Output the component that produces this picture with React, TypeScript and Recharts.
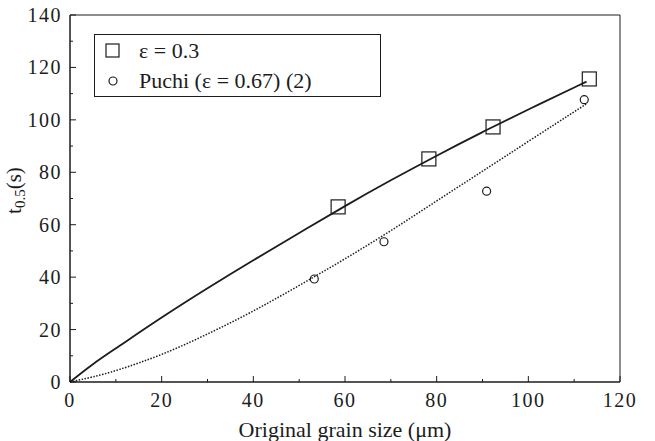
import { ComposedChart, Label, Legend, Line, ReferenceArea, Scatter, XAxis, YAxis } from 'recharts';

const INK = '#1c1c1c';
const SERIF = '"Liberation Serif", "Times New Roman", serif';

const xTicks = [0, 10, 20, 30, 40, 50, 60, 70, 80, 90, 100, 110, 120];
const yTicks = [0, 10, 20, 30, 40, 50, 60, 70, 80, 90, 100, 110, 120, 130, 140];

// measured points
const strainGrain = [58.5, 78.3, 92.3, 113.3];
const strainTime = [66.8, 85.1, 97.3, 115.6];
const puchiGrain = [53.3, 68.5, 90.9, 112.2];
const puchiTime = [39.3, 53.5, 72.8, 107.7];

// fitted curves
const fitStrainGrain = [0, 5, 10, 20, 30, 40, 50, 60, 70, 80, 90, 100, 112.7];
const fitStrainTime = [0, 7, 12.8, 24.7, 35.8, 46.5, 56.8, 67.2, 77, 86.4, 95.4, 104, 114.6];
const fitPuchiGrain = [0, 5, 10, 20, 30, 40, 50, 60, 70, 80, 90, 100, 112.6];
const fitPuchiTime = [0, 1.9, 4.2, 10.2, 18.2, 26.9, 36.8, 46.9, 57.6, 69.1, 80.4, 91.8, 106];

const zip = (xs: number[], ts: number[]) => xs.map((x, i) => ({ x, t: ts[i] }));

const strainPts = zip(strainGrain, strainTime);
const puchiPts = zip(puchiGrain, puchiTime);
const strainFit = zip(fitStrainGrain, fitStrainTime);
const puchiFit = zip(fitPuchiGrain, fitPuchiTime);

const XTick = (props: any) => {
  const { x, y, payload } = props;
  const major = payload.value % 20 === 0;
  return (
    <g>
      <line x1={x} y1={y} x2={x} y2={y - (major ? 6 : 3)} stroke={INK} />
      {major && (
        <text x={x} y={y + 25} textAnchor="middle" fill={INK} fontFamily={SERIF} fontSize={20} letterSpacing={1.5}>
          {payload.value}
        </text>
      )}
    </g>
  );
};

const YTick = (props: any) => {
  const { x, y, payload } = props;
  const major = payload.value % 20 === 0;
  return (
    <g>
      <line x1={x} y1={y} x2={x + (major ? 6 : 3)} y2={y} stroke={INK} />
      {major && (
        <text x={x - 8} y={y} dy="0.35em" textAnchor="end" fill={INK} fontFamily={SERIF} fontSize={20} letterSpacing={1.5}>
          {payload.value}
        </text>
      )}
    </g>
  );
};

const XTitle = (props: any) => {
  const vb = props.viewBox;
  return (
    <text x={vb.x + vb.width / 2} y={vb.y + 55} textAnchor="middle" fill={INK} fontFamily={SERIF} fontSize={22}>
      Original grain size (μm)
    </text>
  );
};

const YTitle = (props: any) => {
  const vb = props.viewBox;
  const cx = 21;
  const cy = vb.y + vb.height / 2 - 8;
  return (
    <text x={cx} y={cy} transform={`rotate(-90 ${cx} ${cy})`} textAnchor="middle" fill={INK} fontFamily={SERIF} fontSize={21}>
      t
      <tspan fontSize={15} dy={4}>0.5</tspan>
      <tspan dy={-4}>(s)</tspan>
    </text>
  );
};

const SquareMark = (p: any) => (
  <rect x={p.cx - 7} y={p.cy - 7} width={14} height={14} fill="none" stroke={INK} strokeWidth={1.2} />
);
const CircleMark = (p: any) => <circle cx={p.cx} cy={p.cy} r={4} fill="none" stroke={INK} strokeWidth={1.2} />;

const LegendBox = () => (
  <div
    style={{
      width: 287,
      height: 63,
      boxSizing: 'border-box',
      border: `1px solid ${INK}`,
      fontFamily: SERIF,
      fontSize: 22,
      color: INK,
      paddingTop: 1,
    }}
  >
    <div style={{ display: 'flex', alignItems: 'center', height: 30 }}>
      <svg width={44} height={30}>
        <rect x={11} y={8} width={13} height={13} fill="none" stroke={INK} strokeWidth={1.2} />
      </svg>
      <span>ε = 0.3</span>
    </div>
    <div style={{ display: 'flex', alignItems: 'center', height: 30 }}>
      <svg width={44} height={30}>
        <circle cx={18} cy={15} r={4} fill="none" stroke={INK} strokeWidth={1.2} />
      </svg>
      <span>Puchi (ε = 0.67) (2)</span>
    </div>
  </div>
);

export default function App() {
  return (
    <div style={{ position: 'absolute', left: 0, top: 0, background: '#fff' }}>
      <ComposedChart width={655} height={441} margin={{ top: 15, right: 35, bottom: 0, left: 0 }}>
        <XAxis
          dataKey="x"
          type="number"
          domain={[0, 120]}
          ticks={xTicks}
          interval={0}
          height={59}
          tickSize={0}
          tickMargin={0}
          tick={XTick}
          axisLine={{ stroke: INK }}
          tickLine={false}
        >
          <Label content={XTitle} />
        </XAxis>
        <YAxis
          type="number"
          domain={[0, 140]}
          ticks={yTicks}
          interval={0}
          width={70}
          tickSize={0}
          tickMargin={0}
          tick={YTick}
          axisLine={{ stroke: INK }}
          tickLine={false}
        >
          <Label content={YTitle} />
        </YAxis>
        <ReferenceArea x1={0} x2={120} y1={0} y2={140} fill="none" stroke={INK} strokeWidth={1} />
        <Line
          data={strainFit}
          dataKey="t"
          type="basis"
          stroke={INK}
          strokeWidth={1.8}
          dot={false}
          activeDot={false}
          isAnimationActive={false}
        />
        <Line
          data={puchiFit}
          dataKey="t"
          type="basis"
          stroke={INK}
          strokeWidth={1.5}
          strokeDasharray="1.5 1.5"
          dot={false}
          activeDot={false}
          isAnimationActive={false}
        />
        <Scatter data={strainPts} dataKey="t" shape={SquareMark} isAnimationActive={false} />
        <Scatter data={puchiPts} dataKey="t" shape={CircleMark} isAnimationActive={false} />
        <Legend
          layout="vertical"
          align="center"
          verticalAlign="middle"
          content={LegendBox}
          wrapperStyle={{ left: 94, top: 34, width: 287, height: 63 }}
        />
      </ComposedChart>
    </div>
  );
}
